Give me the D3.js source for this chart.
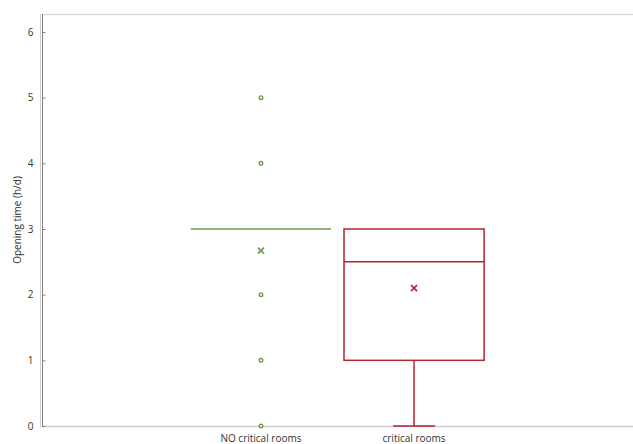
<!DOCTYPE html>
<html>
<head>
<meta charset="utf-8">
<script src="https://cdn.jsdelivr.net/npm/d3@7"></script>
<style>
  html, body { margin: 0; padding: 0; background: #fff; }
  svg text { font-family: "Open Sans", "Liberation Sans", sans-serif; fill: #333; }
</style>
</head>
<body>
<svg id="chart" width="633" height="444"></svg>
<script>
// Box-plot summaries of daily opening time per room group
const categories = ["NO critical rooms", "critical rooms"];
const colors = ["#6b9a4b", "#b3262e"];
const lowerWhisker = [3, 0];
const q1 = [3, 1];
const medians = [3, 2.5];
const q3 = [3, 3];
const upperWhisker = [3, 3];
const means = [2.67, 2.1];
const outliers = [[0, 1, 2, 4, 5], []];
const yTicks = [0, 1, 2, 3, 4, 5, 6];
const yLabel = "Opening time (h/d)";

const svg = d3.select("#chart");
const plotLeft = 42, plotRight = 633, plotTop = 14, plotBottom = 426;

const y = d3.scaleLinear().domain([0, 6]).range([plotBottom, plotBottom - 6 * 65.67]);
const x = d3.scaleBand().domain(categories).range([plotLeft, plotRight]).paddingOuter(0.93).paddingInner(0);
const boxW = x.bandwidth() * 0.915;
const capW = boxW * 0.3;
const cx = c => x(c) + x.bandwidth() / 2;

// plot frame
svg.append("line").attr("x1", plotLeft).attr("x2", plotRight).attr("y1", plotTop + 0.5).attr("y2", plotTop + 0.5)
  .attr("stroke", "#d9d9d9").attr("stroke-width", 1.5);
svg.append("line").attr("x1", plotLeft).attr("x2", plotRight).attr("y1", plotBottom + 0.5).attr("y2", plotBottom + 0.5)
  .attr("stroke", "#cfcfcf").attr("stroke-width", 1.5);

// y axis with inward ticks
const yAxis = d3.axisLeft(y).tickValues(yTicks).tickFormat(d3.format("d")).tickSizeInner(-3).tickSizeOuter(0).tickPadding(9);
const ga = svg.append("g").attr("transform", `translate(${plotLeft + 0.5},0)`).call(yAxis);
ga.select(".domain").attr("stroke", "#7f7f7f").attr("d", `M0,${plotTop}V${plotBottom + 1}`);
ga.selectAll(".tick line").attr("stroke", "#7f7f7f");
ga.selectAll(".tick text").style("font-size", "10px").attr("fill", "#333");
svg.append("line").attr("x1", plotLeft - 1.5).attr("x2", plotLeft - 1.5).attr("y1", plotTop).attr("y2", plotBottom + 1)
  .attr("stroke", "#d0d0d0").attr("stroke-width", 1);

svg.append("text")
  .attr("transform", "translate(21,220) rotate(-90)")
  .attr("text-anchor", "middle")
  .style("font-size", "10px")
  .text(yLabel);

// x category labels
categories.forEach(c => {
  svg.append("text").attr("x", cx(c)).attr("y", 442).attr("text-anchor", "middle")
    .style("font-size", "10px").text(c);
});

// boxes
categories.forEach((c, i) => {
  const g = svg.append("g");
  const col = colors[i];
  const xc = cx(c);
  // whiskers
  if (lowerWhisker[i] < q1[i]) {
    g.append("line").attr("x1", xc).attr("x2", xc).attr("y1", y(q1[i])).attr("y2", y(lowerWhisker[i]))
      .attr("stroke", col).attr("stroke-width", 1.5);
    g.append("line").attr("x1", xc - capW / 2).attr("x2", xc + capW / 2)
      .attr("y1", y(lowerWhisker[i])).attr("y2", y(lowerWhisker[i]))
      .attr("stroke", col).attr("stroke-width", 1.5);
  }
  if (upperWhisker[i] > q3[i]) {
    g.append("line").attr("x1", xc).attr("x2", xc).attr("y1", y(q3[i])).attr("y2", y(upperWhisker[i]))
      .attr("stroke", col).attr("stroke-width", 1.5);
    g.append("line").attr("x1", xc - capW / 2).attr("x2", xc + capW / 2)
      .attr("y1", y(upperWhisker[i])).attr("y2", y(upperWhisker[i]))
      .attr("stroke", col).attr("stroke-width", 1.5);
  }
  // box
  if (q3[i] > q1[i]) {
    g.append("rect").attr("x", xc - boxW / 2).attr("y", y(q3[i]))
      .attr("width", boxW).attr("height", y(q1[i]) - y(q3[i]))
      .attr("fill", "none").attr("stroke", col).attr("stroke-width", 1.5);
  }
  // median
  g.append("line").attr("x1", xc - boxW / 2).attr("x2", xc + boxW / 2)
    .attr("y1", y(medians[i])).attr("y2", y(medians[i]))
    .attr("stroke", col).attr("stroke-width", 1.5);
  // mean marker
  const m = y(means[i]), s = 3;
  g.append("path").attr("d", `M${xc - s},${m - s}L${xc + s},${m + s}M${xc - s},${m + s}L${xc + s},${m - s}`)
    .attr("stroke", col).attr("stroke-width", 1.6).attr("fill", "none");
  // outliers
  g.selectAll("circle").data(outliers[i]).join("circle")
    .attr("cx", xc).attr("cy", d => y(d)).attr("r", 1.8)
    .attr("fill", "#fff").attr("stroke", col).attr("stroke-width", 1.4);
});
</script>
</body>
</html>
